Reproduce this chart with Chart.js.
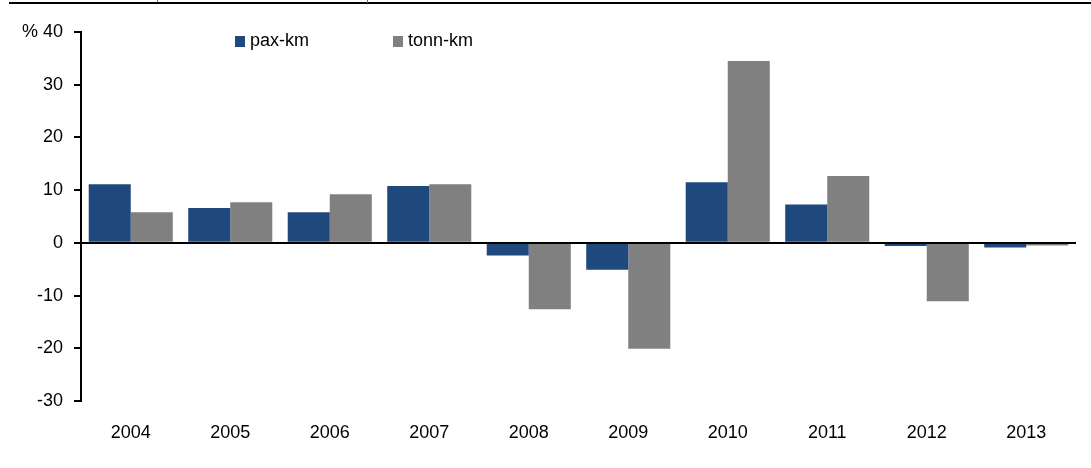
<!DOCTYPE html>
<html>
<head>
<meta charset="utf-8">
<script src="https://cdn.jsdelivr.net/npm/chart.js@4"></script>
<style>
    html, body { margin: 0; padding: 0; background: #fff; }
    #wrap { position: relative; width: 1091px; height: 468px; }
    #topline { position: absolute; left: 9px; right: 0; top: 2px; height: 2px; background: #000; }
    .frag { position: absolute; top: 0; width: 1px; background: #666; }
    #legend { position: absolute; top: 30px; left: 235px; font-family: 'Liberation Sans', Arial, sans-serif; font-size: 18px; color: #000; }
    #legend span.item { position: absolute; white-space: nowrap; top: 0; }
    #legend i { display: inline-block; width: 10px; height: 11px; margin-right: 5px; vertical-align: -1px; }
</style>
</head>
<body>
<div id="wrap">
    <canvas id="chart" width="1091" height="468"></canvas>
    <div id="topline"></div>
    <div class="frag" style="left:157px;height:2px"></div>
    <div class="frag" style="left:367px;height:3px"></div>
    <div id="legend"></div>
</div>
<script>
const years   = ['2004', '2005', '2006', '2007', '2008', '2009', '2010', '2011', '2012', '2013'];
const paxKm   = [11.1, 6.6, 5.8, 10.8, -2.4, -5.1, 11.5, 7.3, -0.6, -0.9];
const tonnKm  = [5.8, 7.7, 9.2, 11.1, -12.6, -20.1, 34.5, 12.7, -11.1, -0.5];
const seriesNames = ['pax-km', 'tonn-km'];
const colors  = ['#1f497d', '#808080'];

const FONT = "'Liberation Sans', Arial, sans-serif";

// legend as html, placed like the original
const legendEl = document.getElementById('legend');
const legendX = [0, 158];
seriesNames.forEach((name, i) => {
    const s = document.createElement('span');
    s.className = 'item';
    s.style.left = legendX[i] + 'px';
    s.innerHTML = '<i style="background:' + colors[i] + '"></i>' + name;
    legendEl.appendChild(s);
});

// zero line across the plot
const zeroLine = {
    id: 'zeroLine',
    afterDatasetsDraw(chart) {
        const { ctx, chartArea, scales } = chart;
        const y0 = Math.round(scales.y.getPixelForValue(0));
        ctx.save();
        ctx.strokeStyle = '#000';
        ctx.lineWidth = 2;
        ctx.beginPath();
        ctx.moveTo(chartArea.left, y0);
        ctx.lineTo(chartArea.right, y0);
        ctx.stroke();
        ctx.restore();
    }
};

Chart.defaults.font.family = FONT;
Chart.defaults.font.size = 18;
Chart.defaults.color = '#000';

new Chart(document.getElementById('chart'), {
    type: 'bar',
    data: {
        labels: years,
        datasets: [
            { label: seriesNames[0], data: paxKm, backgroundColor: colors[0] },
            { label: seriesNames[1], data: tonnKm, backgroundColor: colors[1] }
        ]
    },
    options: {
        responsive: false,
        animation: false,
        categoryPercentage: 0.845,
        barPercentage: 1,
        layout: { padding: { top: 32, right: 15, left: 0, bottom: 0 } },
        plugins: { legend: { display: false }, tooltip: { enabled: false } },
        scales: {
            x: {
                grid: { display: false },
                border: { display: false },
                ticks: { padding: 13, maxRotation: 0 },
                afterFit: s => { s.height = 67; }
            },
            y: {
                min: -30,
                max: 40,
                ticks: {
                    stepSize: 10,
                    padding: 11,
                    callback: v => v === 40 ? '% 40' : String(v)
                },
                grid: { drawOnChartArea: false, drawTicks: true, tickLength: 7, color: '#000', lineWidth: 2 },
                border: { display: true, color: '#000', width: 2 },
                afterFit: s => { s.width = 81; }
            }
        }
    },
    plugins: [zeroLine]
});
</script>
</body>
</html>
